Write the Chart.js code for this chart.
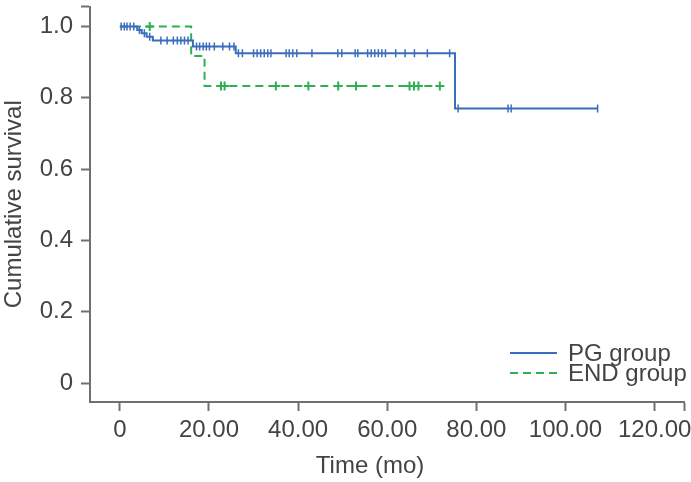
<!DOCTYPE html>
<html>
<head>
<meta charset="utf-8">
<script src="https://cdn.jsdelivr.net/npm/chart.js@4/dist/chart.umd.min.js"></script>
<style>
  html, body { margin: 0; padding: 0; background: #fff; }
</style>
</head>
<body>
<canvas id="kmChart" width="691" height="482"></canvas>
<script>
// PG group: time (mo), cumulative survival, censored (1) or event/start (0)
const pgTime = [0, 0.3, 1.0, 1.6, 2.3, 3.1, 3.9, 4.4, 4.9, 5.5, 6.0, 6.7, 7.4,
  9.2, 10.6, 12.0, 12.9, 13.7, 14.5, 15.3, 16.4,
  17.2, 17.9, 18.7, 19.4, 20.1, 21.2, 23.1, 24.6, 25.6, 26.0,
  26.6, 27.5, 30.0, 30.8, 31.6, 32.4, 33.2, 33.9, 37.3, 38.0, 38.8, 39.7, 43.1,
  48.9, 49.8, 52.8, 53.4, 55.6, 56.4, 57.2, 58.0, 58.8, 59.6, 61.9, 64.0, 66.1,
  69.0, 74.0, 75.2, 75.9, 87.1, 87.8, 107.2];
const pgSurv = [1, 1, 1, 1, 1, 1, 0.990, 0.990, 0.981, 0.981, 0.971, 0.971, 0.961,
  0.961, 0.961, 0.961, 0.961, 0.961, 0.961, 0.961, 0.944,
  0.944, 0.944, 0.944, 0.944, 0.944, 0.944, 0.944, 0.944, 0.944, 0.925,
  0.925, 0.925, 0.925, 0.925, 0.925, 0.925, 0.925, 0.925, 0.925, 0.925, 0.925, 0.925, 0.925,
  0.925, 0.925, 0.925, 0.925, 0.925, 0.925, 0.925, 0.925, 0.925, 0.925, 0.925, 0.925, 0.925,
  0.925, 0.925, 0.770, 0.770, 0.770, 0.770, 0.770];
const pgCens = [0, 1, 1, 1, 1, 1, 0, 1, 0, 1, 0, 1, 0,
  1, 1, 1, 1, 1, 1, 1, 0,
  1, 1, 1, 1, 1, 1, 1, 1, 1, 0,
  1, 1, 1, 1, 1, 1, 1, 1, 1, 1, 1, 1, 1,
  1, 1, 1, 1, 1, 1, 1, 1, 1, 1, 1, 1, 1,
  1, 1, 0, 1, 1, 1, 1];

// END group
const endTime = [0, 6.7, 16.0, 19.0, 22.7, 23.5, 35.0, 42.3, 49.0, 53.0, 65.0, 66.0, 67.0, 71.8];
const endSurv = [1, 1, 0.917, 0.833, 0.833, 0.833, 0.833, 0.833, 0.833, 0.833, 0.833, 0.833, 0.833, 0.833];
const endCens = [0, 1, 0, 0, 1, 1, 1, 1, 1, 1, 1, 1, 1, 1];

const seriesNames = ['PG group', 'END group'];
const xTicks = [0, 20, 40, 60, 80, 100, 120];
const xTickLabels = ['0', '20.00', '40.00', '60.00', '80.00', '100.00', '120.00'];
const yTicks = [0, 0.2, 0.4, 0.6, 0.8, 1.0];
const yTickLabels = ['0', '0.2', '0.4', '0.6', '0.8', '1.0'];
const xTitle = 'Time (mo)';
const yTitle = 'Cumulative survival';

const blue = '#3b6dbd';
const green = '#2eb052';
const axisColor = '#707070';
const textColor = '#444';
const font = { family: 'Liberation Sans, Arial, sans-serif', size: 24 };

const toPoints = (t, s) => t.map((v, i) => ({ x: v, y: s[i] }));

// legend + x title drawn inside the canvas
const extras = {
  id: 'extras',
  afterDraw(chart) {
    const ctx = chart.ctx;
    ctx.save();
    ctx.font = `${font.size}px ${font.family}`;
    ctx.fillStyle = textColor;
    ctx.textAlign = 'center';
    ctx.textBaseline = 'alphabetic';
    ctx.fillText(xTitle, 370, 473);

    chart.data.datasets.forEach((ds, i) => {
      const y = 353 + i * 20;
      ctx.strokeStyle = ds.borderColor;
      ctx.lineWidth = 2;
      ctx.setLineDash(ds.borderDash || []);
      ctx.beginPath();
      ctx.moveTo(510, y);
      ctx.lineTo(557, y);
      ctx.stroke();
      ctx.setLineDash([]);
      ctx.textAlign = 'left';
      ctx.fillText(ds.label, 568, y + 8);
    });
    ctx.restore();
  }
};

new Chart(document.getElementById('kmChart'), {
  type: 'line',
  data: {
    datasets: [{
      label: seriesNames[0],
      data: toPoints(pgTime, pgSurv),
      borderColor: blue,
      borderWidth: 2,
      stepped: true,
      fill: false,
      pointStyle: 'line',
      rotation: 90,
      pointRadius: ctx => pgCens[ctx.dataIndex] ? 4 : 0,
      pointBorderColor: blue,
      pointBorderWidth: 1.5
    }, {
      label: seriesNames[1],
      data: toPoints(endTime, endSurv),
      borderColor: green,
      borderWidth: 2,
      borderDash: [8, 5],
      stepped: true,
      fill: false,
      pointStyle: 'cross',
      pointRadius: ctx => endCens[ctx.dataIndex] ? 4.5 : 0,
      pointBorderColor: green,
      pointBorderWidth: 2
    }]
  },
  options: {
    responsive: false,
    animation: false,
    events: [],
    layout: { padding: { top: 5, right: 4, left: 0, bottom: 0 } },
    plugins: { legend: { display: false }, tooltip: { enabled: false } },
    scales: {
      x: {
        type: 'linear',
        min: -6.7,
        max: 126.7,
        afterBuildTicks: s => { s.ticks = xTicks.concat([s.max]).map(v => ({ value: v })); },
        afterFit: s => { s.height = 80; s.paddingLeft = 0; s.paddingRight = 0; },
        ticks: {
          callback: (v, i) => xTickLabels[i] ?? '',
          font: font,
          color: textColor,
          padding: 5,
          maxRotation: 0,
          autoSkip: false
        },
        grid: { drawOnChartArea: false, tickLength: 9, tickColor: axisColor, tickWidth: 2 },
        border: { color: axisColor, width: 2 }
      },
      y: {
        min: -0.053,
        max: 1.056,
        afterBuildTicks: s => { s.ticks = yTicks.concat([s.max]).map(v => ({ value: v })); },
        afterFit: s => { s.width = 90; s.paddingTop = 0; s.paddingBottom = 0; },
        ticks: {
          callback: (v, i) => yTickLabels[i] ?? '',
          font: font,
          color: textColor,
          padding: 8
        },
        grid: { drawOnChartArea: false, tickLength: 9, tickColor: axisColor, tickWidth: 2 },
        border: { color: axisColor, width: 2 },
        title: { display: true, text: yTitle, font: font, color: textColor, padding: 0 }
      }
    }
  },
  plugins: [extras]
});
</script>
</body>
</html>
